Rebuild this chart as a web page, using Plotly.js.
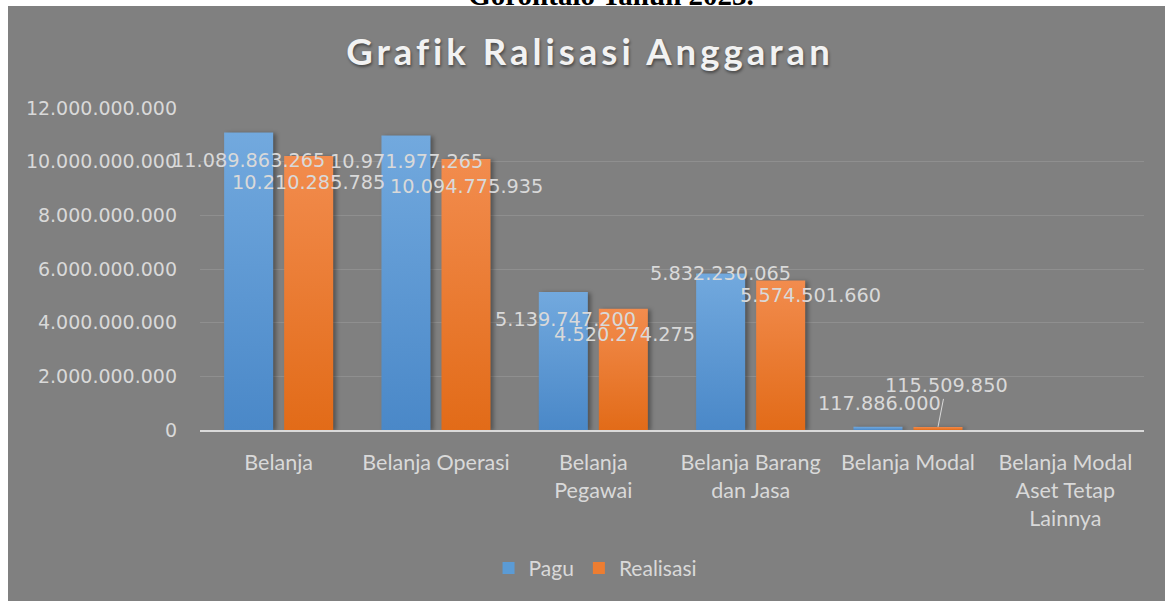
<!DOCTYPE html>
<html>
<head>
<meta charset="utf-8">
<script src="https://cdn.plot.ly/plotly-3.0.1.min.js"></script>
<style>
  html, body { margin:0; padding:0; background:#ffffff; width:1165px; height:601px; overflow:hidden; }
  #cap { position:absolute; left:0; top:0; width:1165px; height:6px; overflow:hidden; }
  #cap span { position:absolute; left:361px; width:500px; top:-20px; text-align:center; line-height:30px;
              font-family:"Liberation Serif","Times New Roman",serif; font-weight:bold; font-size:29px; color:#000; white-space:nowrap; }
  #chart { position:absolute; left:8px; top:6px; width:1157px; height:595px; }
  #chart .gtitle { letter-spacing:4px; }
  #chart .bars .point path { filter: drop-shadow(3px 1px 2px rgba(0,0,0,0.35)); }
</style>
</head>
<body>
<div id="cap"><span>Gorontalo Tahun 2023.</span></div>
<div id="chart"></div>
<script>
// ---- data ----
const categories = ["Belanja", "Belanja Operasi", "Belanja Pegawai", "Belanja Barang dan Jasa", "Belanja Modal", "Belanja Modal Aset Tetap Lainnya"];
const tickLabels = ["Belanja", "Belanja Operasi", "Belanja<br>Pegawai", "Belanja Barang<br>dan Jasa", "Belanja Modal", "Belanja Modal<br>Aset Tetap<br>Lainnya"];
const pagu      = [11089863265, 10971977265, 5139747200, 5832230065, 117886000, null];
const realisasi = [10210285785, 10094775935, 4520274275, 5574501660, 115509850, null];
const seriesNames = ["Pagu", "Realisasi"];
const yTicks = [0, 2000000000, 4000000000, 6000000000, 8000000000, 10000000000, 12000000000];

// ---- label placement (style, not data) ----
const paguLabelOffsets      = [[0,-28],[0,-26],[2,-27],[0,0],[1,23]];
const realisasiLabelOffsets = [[0,-26],[0,-27],[1,-26],[30,-15],null];

function fmt(v){ return v.toString().replace(/\B(?=(\d{3})+(?!\d))/g, "."); }

const labelFont = {family:"DejaVu Sans", size:19.3, color:"#d9d9d9"};
const annotations = [];
pagu.forEach((v,i)=>{
  if (v == null) return;
  const o = paguLabelOffsets[i];
  annotations.push({x:categories[i], y:v, xref:"x", yref:"y", text:fmt(v), showarrow:false,
    xshift:-30 + o[0], yshift:o[1], font:labelFont, xanchor:"center", yanchor:"middle"});
});
realisasi.forEach((v,i)=>{
  if (v == null) return;
  const o = realisasiLabelOffsets[i];
  if (o) {
    annotations.push({x:categories[i], y:v, xref:"x", yref:"y", text:fmt(v), showarrow:false,
      xshift:30 + o[0], yshift:o[1], font:labelFont, xanchor:"center", yanchor:"middle"});
  } else {
    annotations.push({x:categories[i], y:v, xref:"x", yref:"y", text:fmt(v), showarrow:true,
      arrowhead:0, arrowwidth:1, arrowcolor:"#d9d9d9", ax:8, ay:-41, xshift:30,
      font:labelFont, xanchor:"center", yanchor:"middle", standoff:0});
  }
});

const traces = [
  {type:"bar", name:seriesNames[0], x:categories, y:pagu, marker:{color:"#5b9bd5"}, hoverinfo:"skip"},
  {type:"bar", name:seriesNames[1], x:categories, y:realisasi, marker:{color:"#ed7d31"}, hoverinfo:"skip"}
];

const layout = {
  width:1157, height:595,
  paper_bgcolor:"#808080", plot_bgcolor:"#808080",
  margin:{l:192, r:21, t:102, b:171, autoexpand:false},
  separators:",.",
  barmode:"group", bargap:0.237, bargroupgap:0.183,
  title:{text:"Grafik Ralisasi Anggaran", x:0.503, xref:"container", xanchor:"center",
         y:0.923, yref:"container", yanchor:"middle",
         font:{family:"Lato", size:36.5, weight:700, color:"#f2f2f2", shadow:"1px 2px 3px rgba(0,0,0,0.45)"}},
  xaxis:{type:"category", tickvals:categories, ticktext:tickLabels, range:[-0.5, 5.5], autorange:false,
         showline:true, linecolor:"#d9d9d9", linewidth:2,
         ticks:"", showgrid:false, tickangle:0, automargin:false,
         tickfont:{family:"Lato", size:21.5, color:"#d9d9d9"}, ticklabelstandoff:12, fixedrange:true},
  yaxis:{range:[0,12000000000], tickvals:yTicks, tickformat:",d", showgrid:true, gridcolor:"#8f8f8f", gridwidth:1,
         zeroline:false, ticks:"", automargin:false,
         tickfont:{family:"DejaVu Sans", size:19, color:"#d9d9d9"}, ticklabelstandoff:22, fixedrange:true},
  showlegend:true,
  legend:{orientation:"h", x:0.419, xanchor:"center", y:-0.43, yanchor:"middle",
          font:{family:"Lato", size:21, color:"#d9d9d9"}, bgcolor:"rgba(0,0,0,0)", itemwidth:30, traceorder:"normal"},
  annotations:annotations
};

Plotly.newPlot("chart", traces, layout, {staticPlot:true, displayModeBar:false}).then(gd => {
  // Excel-like vertical gradient fill on the bars
  const svg = gd.querySelector("svg.main-svg");
  const NS = "http://www.w3.org/2000/svg";
  const defs = svg.querySelector("defs") || svg.insertBefore(document.createElementNS(NS, "defs"), svg.firstChild);
  const grads = [["gPagu", "#72a9de", "#4a88c8"], ["gReal", "#f28c4e", "#e26b18"]];
  grads.forEach(([id, top, bot]) => {
    const g = document.createElementNS(NS, "linearGradient");
    g.setAttribute("id", id); g.setAttribute("x1", "0"); g.setAttribute("y1", "0");
    g.setAttribute("x2", "0"); g.setAttribute("y2", "1");
    [[0, top], [1, bot]].forEach(([off, c]) => {
      const s = document.createElementNS(NS, "stop");
      s.setAttribute("offset", off); s.setAttribute("stop-color", c);
      g.appendChild(s);
    });
    defs.appendChild(g);
  });
  gd.querySelectorAll(".barlayer .trace").forEach((tr, k) => {
    tr.querySelectorAll(".point path").forEach(p => { p.style.fill = "url(#" + grads[k][0] + ")"; });
  });
});
</script>
</body>
</html>
